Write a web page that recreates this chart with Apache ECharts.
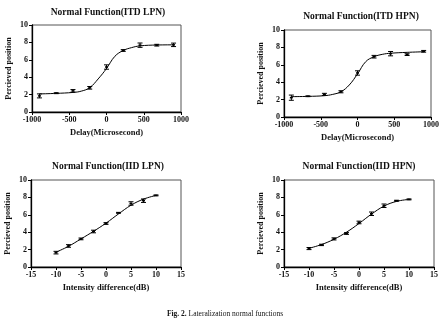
<!DOCTYPE html>
<html><head><meta charset="utf-8">
<script src="https://cdn.jsdelivr.net/npm/echarts@6/dist/echarts.min.js"></script>
<style>html,body{margin:0;padding:0;background:#fff}#c{width:442px;height:328px}</style>
</head><body><div id="c"></div>
<script>
// ---- data ----
const itdX = [-900, -675, -450, -225, 0, 225, 450, 675, 900];
const iidX = [-10, -7.5, -5, -2.5, 0, 2.5, 5, 7.5, 10];
const itdFitX = [-900, -675, -450, -337, -225, -112, 0, 112, 225, 337, 450, 675, 900];

const itdLpnY   = [1.85, 2.16, 2.43, 2.78, 5.17, 7.07, 7.68, 7.68, 7.72];
const itdLpnErr = [0.23, 0.05, 0.15, 0.15, 0.25, 0.10, 0.25, 0.10, 0.20];
const itdLpnFit = [2.08, 2.14, 2.25, 2.40, 2.80, 3.80, 5.00, 6.40, 7.07, 7.40, 7.60, 7.70, 7.72];

const itdHpnY   = [2.22, 2.38, 2.60, 2.90, 5.06, 6.93, 7.28, 7.17, 7.55];
const itdHpnErr = [0.30, 0.04, 0.12, 0.12, 0.25, 0.15, 0.25, 0.10, 0.10];
const itdHpnFit = [2.34, 2.37, 2.45, 2.60, 2.90, 3.68, 4.95, 6.36, 6.93, 7.20, 7.33, 7.43, 7.50];

const iidLpnY   = [1.65, 2.42, 3.23, 4.08, 5.00, 6.23, 7.30, 7.62, 8.23];
const iidLpnErr = [0.15, 0.15, 0.10, 0.15, 0.10, 0.05, 0.20, 0.20, 0.05];
const iidLpnFit = [1.70, 2.38, 3.23, 4.10, 5.04, 6.10, 7.10, 7.80, 8.23];

const iidHpnY   = [2.12, 2.54, 3.23, 3.85, 5.12, 6.12, 7.04, 7.62, 7.77];
const iidHpnErr = [0.12, 0.08, 0.12, 0.10, 0.15, 0.20, 0.20, 0.05, 0.05];
const iidHpnFit = [2.15, 2.58, 3.19, 4.00, 5.00, 6.08, 7.00, 7.54, 7.77];

const titles = ['Normal Function(ITD LPN)', 'Normal Function(ITD HPN)', 'Normal Function(IID LPN)', 'Normal Function(IID HPN)'];
const xNames = ['Delay(Microsecond)', 'Delay(Microsecond)', 'Intensity difference(dB)', 'Intensity difference(dB)'];
const yName = 'Percieved position';
const caption = 'Lateralization normal functions';

// ---- layout ----
const grids = [
  {left: 32, top: 25, width: 149, height: 87},
  {left: 284, top: 30, width: 153, height: 87},
  {left: 31, top: 180, width: 150, height: 87},
  {left: 284, top: 180, width: 150, height: 87}
];
const titlePos = [[108, 13], [361, 17], [108, 167], [359, 167]];
const serif = '"Liberation Serif", "Times New Roman", serif';

const panels = [
  {x: itdX, y: itdLpnY, e: itdLpnErr, fx: itdFitX, fy: itdLpnFit, min: -1000, max: 1000, iv: 500},
  {x: itdX, y: itdHpnY, e: itdHpnErr, fx: itdFitX, fy: itdHpnFit, min: -1000, max: 1000, iv: 500},
  {x: iidX, y: iidLpnY, e: iidLpnErr, fx: iidX, fy: iidLpnFit, min: -15, max: 15, iv: 5},
  {x: iidX, y: iidHpnY, e: iidHpnErr, fx: iidX, fy: iidHpnFit, min: -15, max: 15, iv: 5}
];

const labelStyle = {fontFamily: serif, fontWeight: 'bold', fontSize: 8, color: '#111', formatter: v => String(v)};
const xAxis = [], yAxis = [], series = [];
panels.forEach((p, i) => {
  xAxis.push({
    gridIndex: i, type: 'value', min: p.min, max: p.max, interval: p.iv,
    name: xNames[i], nameLocation: 'middle', nameGap: 16,
    nameTextStyle: {fontFamily: serif, fontWeight: 'bold', fontSize: 8.5, color: '#111'},
    axisLine: {onZero: false, lineStyle: {color: '#000', width: 1.3}},
    axisTick: {inside: false, length: 3, lineStyle: {color: '#000'}},
    axisLabel: Object.assign({margin: 4}, labelStyle),
    splitLine: {show: false}
  });
  yAxis.push({
    gridIndex: i, type: 'value', min: 0, max: 10, interval: 2,
    name: yName, nameLocation: 'middle', nameGap: 19,
    nameTextStyle: {fontFamily: serif, fontWeight: 'bold', fontSize: 8, color: '#111'},
    axisLine: {onZero: false, lineStyle: {color: '#000', width: 1.3}},
    axisTick: {inside: false, length: 3, lineStyle: {color: '#000'}},
    axisLabel: Object.assign({margin: 4}, labelStyle),
    splitLine: {show: false}
  });
  series.push({
    type: 'line', xAxisIndex: i, yAxisIndex: i, smooth: 0.4, symbol: 'none',
    lineStyle: {color: '#000', width: 1}, silent: true,
    data: p.fx.map((v, k) => [v, p.fy[k]])
  });
  series.push({
    type: 'custom', xAxisIndex: i, yAxisIndex: i,
    data: p.x.map((v, k) => [v, p.y[k], p.e[k]]),
    renderItem: function (params, api) {
      const x = api.value(0), y = api.value(1), e = api.value(2);
      const top = api.coord([x, y + e]);
      const bot = api.coord([x, y - e]);
      const mid = api.coord([x, y]);
      const w = 2.5;
      const st = {stroke: '#000', lineWidth: 1};
      return {type: 'group', children: [
        {type: 'line', shape: {x1: top[0], y1: top[1], x2: bot[0], y2: bot[1]}, style: st},
        {type: 'line', shape: {x1: top[0] - w, y1: top[1], x2: top[0] + w, y2: top[1]}, style: st},
        {type: 'line', shape: {x1: bot[0] - w, y1: bot[1], x2: bot[0] + w, y2: bot[1]}, style: st},
        {type: 'line', shape: {x1: mid[0] - 1.5, y1: mid[1], x2: mid[0] + 1.5, y2: mid[1]}, style: {stroke: '#000', lineWidth: 1.5}}
      ]};
    }
  });
});

const graphic = titles.map((t, i) => ({
  type: 'text', x: titlePos[i][0], y: titlePos[i][1],
  style: {text: t, fontFamily: serif, fontWeight: 'bold', fontSize: 9.5, fill: '#111', align: 'center', verticalAlign: 'middle'}
}));
graphic.push({
  type: 'text', x: 225, y: 314,
  style: {
    text: '{b|Fig. 2.} ' + caption,
    rich: {b: {fontFamily: serif, fontWeight: 'bold', fontSize: 7.5, fill: '#111'}},
    fontFamily: serif, fontSize: 7.5, fill: '#111', align: 'center', verticalAlign: 'middle'
  }
});

const chart = echarts.init(document.getElementById('c'), null, {renderer: 'canvas'});
chart.setOption({
  animation: false,
  backgroundColor: '#fff',
  grid: grids.map(g => Object.assign({show: true, borderColor: '#555', borderWidth: 1, backgroundColor: 'transparent'}, g)),
  xAxis, yAxis, series, graphic
});
</script></body></html>
